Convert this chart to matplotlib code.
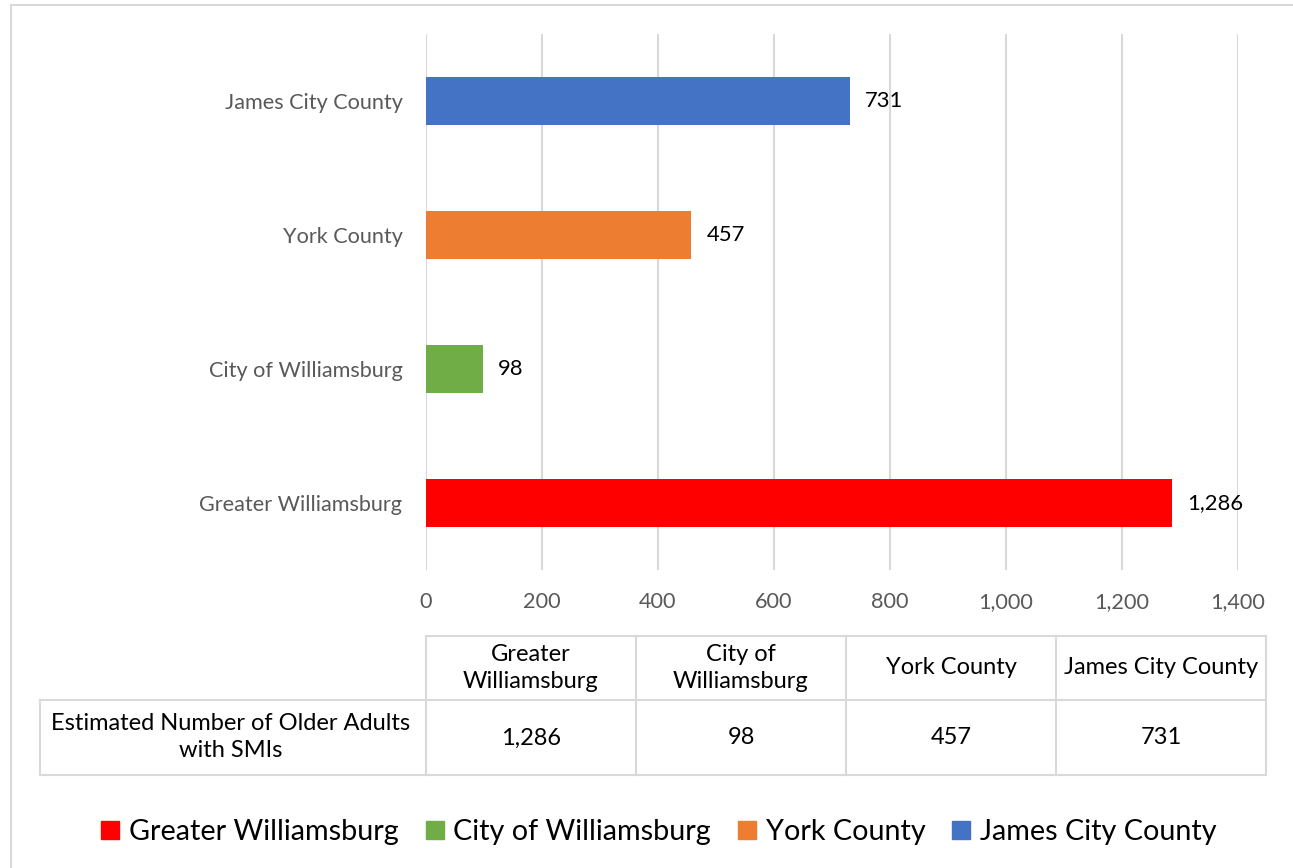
import matplotlib.pyplot as plt
from matplotlib.lines import Line2D
from matplotlib.patches import Rectangle

plt.rcParams['font.family'] = ['Lato', 'DejaVu Sans']

# datos
regiones = ["Greater Williamsburg", "City of Williamsburg", "York County", "James City County"]
valores = [1286, 98, 457, 731]
colores = ["#FF0000", "#70AD47", "#ED7D31", "#4472C4"]
encabezados = ["Greater\nWilliamsburg", "City of\nWilliamsburg", "York County", "James City County"]
fila_titulo = "Estimated Number of Older Adults\nwith SMIs"
ticks_x = [0, 200, 400, 600, 800, 1000, 1200, 1400]

W, H = 1293, 868
fig = plt.figure(figsize=(W / 100, H / 100), dpi=100)


# pasar pixeles a coordenadas de figura
def px(x, y):
    return x / W, 1 - y / H


ax = fig.add_axes([426 / W, 1 - 570 / H, (1238 - 426) / W, (570 - 34) / H])

pos = list(range(len(regiones)))
ax.barh(pos, valores, height=0.36, color=colores, zorder=3)
for p, v in zip(pos, valores):
    ax.annotate(f"{v:,}", (v, p), xytext=(11, 0), textcoords="offset points",
                va="center", ha="left", fontsize=15.8, color="black")

ax.set_xlim(0, 1400)
ax.set_ylim(-0.5, len(regiones) - 0.5)
ax.set_xticks(ticks_x)
ax.set_xticklabels([f"{t:,}" for t in ticks_x])
ax.set_yticks(pos)
ax.set_yticklabels(regiones)
ax.tick_params(axis="both", length=0, labelsize=15.6, colors="#595959")
ax.tick_params(axis="x", pad=16)
ax.tick_params(axis="y", pad=17)
ax.grid(axis="x", color="#D9D9D9", linewidth=1.5, zorder=0)
for s in ax.spines.values():
    s.set_visible(False)

# tabla de datos
gris = "#D9D9D9"
cols = [426, 636, 846, 1056, 1266]


def linea(x0, y0, x1, y1):
    a, b = px(x0, y0)
    c, d = px(x1, y1)
    fig.add_artist(Line2D([a, c], [b, d], transform=fig.transFigure, color=gris, lw=1.5))


linea(426, 636, 1266, 636)
linea(40, 700, 1266, 700)
linea(40, 775, 1266, 775)
linea(40, 700, 40, 775)
for c in cols:
    linea(c, 636, c, 775)

for i, (enc, v) in enumerate(zip(encabezados, valores)):
    xc = (cols[i] + cols[i + 1]) / 2
    fig.text(*px(xc, 668), enc, ha="center", va="center", fontsize=17,
             color="black", linespacing=1.3)
    fig.text(*px(xc, 738), f"{v:,}", ha="center", va="center", fontsize=17, color="black")
fig.text(*px(231, 737), fila_titulo, ha="center", va="center", fontsize=17,
         color="black", linespacing=1.3)

# leyenda
handles = [Line2D([], [], marker="s", linestyle="", markersize=13, color=c) for c in colores]
fig.legend(handles, regiones, loc="center", bbox_to_anchor=px(W / 2 + 12, 832), ncol=4,
           frameon=False, fontsize=20.7, handlelength=0.7, handletextpad=0.3,
           columnspacing=0.9)

# borde
x0, y0 = px(11, 5)
fig.add_artist(Rectangle((x0, -0.05), 1.2, y0 + 0.05, transform=fig.transFigure,
                         fill=False, edgecolor=gris, lw=1.5))

fig.savefig("out.png", dpi=100)
